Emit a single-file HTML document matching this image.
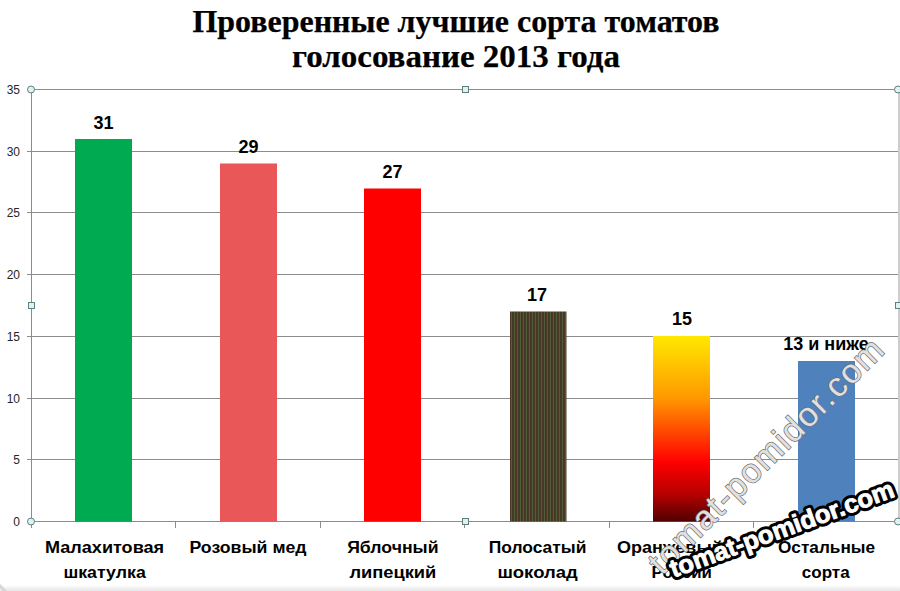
<!DOCTYPE html>
<html><head><meta charset="utf-8">
<style>
html,body{margin:0;padding:0;background:#fff;}
body{width:900px;height:591px;overflow:hidden;position:relative;}
svg{position:absolute;left:0;top:0;}
</style></head>
<body>
<svg width="900" height="591" viewBox="0 0 900 591">
<defs>
<linearGradient id="og" x1="0" y1="0" x2="0" y2="1">
<stop offset="0" stop-color="#FFE800"/>
<stop offset="0.33" stop-color="#FF9A00"/>
<stop offset="0.68" stop-color="#FF0000"/>
<stop offset="0.85" stop-color="#B80000"/>
<stop offset="1" stop-color="#500000"/>
</linearGradient>
<pattern id="stripe" x="510" y="0" width="3" height="10" patternUnits="userSpaceOnUse">
<rect x="0" y="0" width="3" height="10" fill="#4c3626"/>
<rect x="1" y="0" width="1" height="10" fill="#4f5e36"/>
<rect x="2" y="0" width="1" height="10" fill="#433828"/>
</pattern>
</defs>
<defs><linearGradient id="bot" x1="0" y1="0" x2="0" y2="1"><stop offset="0" stop-color="#fff"/><stop offset="1" stop-color="#e6e6e6"/></linearGradient></defs>
<rect x="0" y="585" width="900" height="6" fill="url(#bot)"/>
<line x1="-1" y1="585" x2="6" y2="592" stroke="#d6d6d6" stroke-width="3"/>
<!-- title -->
<g font-family="'Liberation Serif', serif" font-weight="bold" font-size="31" fill="#000" stroke="#000" stroke-width="0.25">
<text x="192.5" y="32" textLength="527" lengthAdjust="spacingAndGlyphs">Проверенные лучшие сорта томатов</text>
<text x="292" y="67" textLength="328" lengthAdjust="spacingAndGlyphs">голосование 2013 года</text>
</g>
<!-- gridlines -->
<g stroke="#8c8c8c" stroke-width="1" shape-rendering="crispEdges">
<line x1="27" y1="89.5" x2="898" y2="89.5"/>
<line x1="27" y1="151.5" x2="898" y2="151.5"/>
<line x1="27" y1="212.5" x2="898" y2="212.5"/>
<line x1="27" y1="274.5" x2="898" y2="274.5"/>
<line x1="27" y1="336.5" x2="898" y2="336.5"/>
<line x1="27" y1="398.5" x2="898" y2="398.5"/>
<line x1="27" y1="459.5" x2="898" y2="459.5"/>
<line x1="27" y1="521.5" x2="898" y2="521.5"/>
<line x1="31.5" y1="89" x2="31.5" y2="528"/>
<line x1="175.5" y1="521" x2="175.5" y2="528"/>
<line x1="320.5" y1="521" x2="320.5" y2="528"/>
<line x1="464.5" y1="521" x2="464.5" y2="528"/>
<line x1="609.5" y1="521" x2="609.5" y2="528"/>
<line x1="753.5" y1="521" x2="753.5" y2="528"/>
</g>
<rect x="898" y="89" width="2" height="432" fill="#cdcdcd"/>
<!-- y labels -->
<g font-family="'Liberation Sans', sans-serif" font-size="12" fill="#262626" text-anchor="end">
<text x="20" y="93.5">35</text>
<text x="20" y="155.5">30</text>
<text x="20" y="216.5">25</text>
<text x="20" y="278.5">20</text>
<text x="20" y="340.5">15</text>
<text x="20" y="402.5">10</text>
<text x="20" y="463.5">5</text>
<text x="20" y="525.5">0</text>
</g>
<!-- bars -->
<rect x="75" y="139" width="57" height="382.6" fill="#00AA50"/>
<rect x="220" y="163.5" width="57" height="358.1" fill="#EA5759"/>
<rect x="364" y="188.5" width="57" height="333.1" fill="#FF0000"/>
<rect x="510" y="311.5" width="56.5" height="210.1" fill="url(#stripe)"/>
<rect x="653" y="336" width="57" height="185.6" fill="url(#og)"/>
<rect x="798" y="361" width="57" height="160.6" fill="#4F81BD"/>
<!-- data labels -->
<g font-family="'Liberation Sans', sans-serif" font-weight="bold" font-size="18" fill="#000" text-anchor="middle">
<text x="103.5" y="128.5">31</text>
<text x="248.5" y="153">29</text>
<text x="392.5" y="177.5">27</text>
<text x="537" y="301">17</text>
<text x="682" y="325">15</text>
<text x="826" y="349.5">13 и ниже</text>
</g>
<!-- category labels -->
<g font-family="'Liberation Sans', sans-serif" font-weight="bold" font-size="17.4" fill="#000">
<text x="45.0" y="553.3" textLength="119.1" lengthAdjust="spacingAndGlyphs">Малахитовая</text>
<text x="63.4" y="577.5" textLength="82.4" lengthAdjust="spacingAndGlyphs">шкатулка</text>
<text x="189.5" y="553.3" textLength="117.1" lengthAdjust="spacingAndGlyphs">Розовый мед</text>
<text x="347.2" y="553.3" textLength="91.3" lengthAdjust="spacingAndGlyphs">Яблочный</text>
<text x="349.4" y="577.5" textLength="86.9" lengthAdjust="spacingAndGlyphs">липецкий</text>
<text x="488.7" y="553.3" textLength="97.7" lengthAdjust="spacingAndGlyphs">Полосатый</text>
<text x="497.4" y="577.5" textLength="80.4" lengthAdjust="spacingAndGlyphs">шоколад</text>
<text x="617.0" y="553.3" textLength="105.8" lengthAdjust="spacingAndGlyphs">Оранжевый</text>
<text x="651.6" y="577.5" textLength="60.3" lengthAdjust="spacingAndGlyphs">России</text>
<text x="778.0" y="553.3" textLength="97.0" lengthAdjust="spacingAndGlyphs">Остальные</text>
<text x="801.8" y="577.5" textLength="47.9" lengthAdjust="spacingAndGlyphs">сорта</text>
</g>
<!-- selection handles -->
<g fill="#dff2f2" stroke="#5f7f7f" stroke-width="1">
<circle cx="31" cy="89.5" r="3.5"/>
<circle cx="31" cy="521.5" r="3.5"/>
<circle cx="898" cy="521.5" r="3.5"/>
<circle cx="898" cy="89.5" r="3.5"/>
<rect x="462.5" y="86.5" width="6" height="6"/>
<rect x="462.5" y="518.5" width="6" height="6"/>
<rect x="28.5" y="302.5" width="6" height="6"/>
<rect x="895.5" y="302.5" width="6" height="6"/>
</g>
<!-- watermarks -->
<g class="wm" transform="translate(661.9,576) rotate(-45)">
<text x="0" y="0" font-family="'Liberation Sans', sans-serif" font-size="34" letter-spacing="1.6" fill="#e0e0e0" stroke="#6c6c6c" stroke-width="1.4" paint-order="stroke">tomat-pomidor.com</text>
</g>
<g class="wm" transform="translate(673.4,577.8) rotate(-20.1)">
<text x="0" y="0" font-family="'Liberation Sans', sans-serif" font-weight="bold" font-size="25.4" fill="#000" stroke="#000" stroke-width="7" stroke-linejoin="round">tomat-pomidor.com</text>
<text x="0" y="0" font-family="'Liberation Sans', sans-serif" font-weight="bold" font-size="25.4" fill="#fff" stroke="#fff" stroke-width="0.9" stroke-linejoin="round">tomat-pomidor.com</text>
</g>
</svg>
</body></html>
